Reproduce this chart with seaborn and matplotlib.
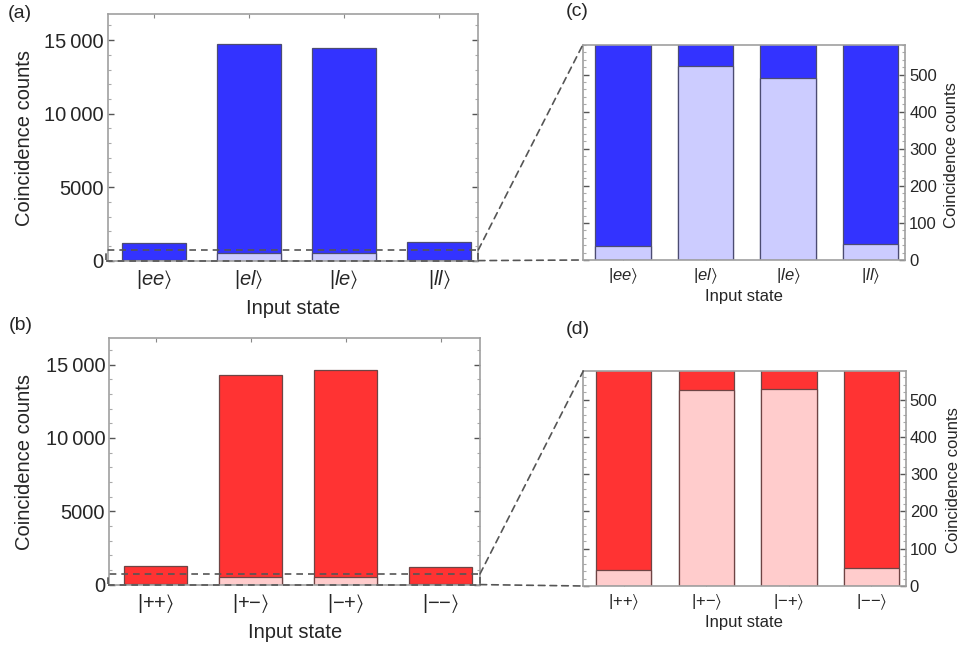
import numpy as np
import pandas as pd
import matplotlib
matplotlib.use("Agg")
import matplotlib.pyplot as plt
import seaborn as sns
from matplotlib.ticker import MultipleLocator, FuncFormatter
from matplotlib.patches import ConnectionPatch

# ---------------- data ----------------
states_time = [r'$|ee\rangle$', r'$|el\rangle$', r'$|le\rangle$', r'$|ll\rangle$']
states_phase = [r'|++$\rangle$', r'|+−$\rangle$', r'|−+$\rangle$', r'|−−$\rangle$']

total_time = [1200, 14730, 14480, 1270]
light_time = [37, 524, 492, 43]

total_phase = [1275, 14270, 14660, 1230]
light_phase = [44, 525, 530, 47]

full_ylim = 16800
zoom_ylim_time = 580
zoom_ylim_phase = 577
zoom_box_top = 730

# ---------------- style ----------------
sns.set_style("white")
plt.rcParams['font.family'] = ['Liberation Sans', 'DejaVu Sans']
plt.rcParams['mathtext.fontset'] = 'custom'
plt.rcParams['mathtext.rm'] = 'Liberation Sans'
plt.rcParams['mathtext.it'] = 'Liberation Sans:italic'
plt.rcParams['mathtext.bf'] = 'Liberation Sans:bold'
plt.rcParams['mathtext.fallback'] = 'stixsans'

W, H = 964, 647
fig = plt.figure(figsize=(W / 100, H / 100), dpi=100)


def rect(l, r, t, b):
    return [l / W, 1 - b / H, (r - l) / W, (b - t) / H]


ax_a = fig.add_axes(rect(107.7, 478.3, 13.7, 260.6))
ax_c = fig.add_axes(rect(582.7, 905.0, 45.0, 260.0))
ax_b = fig.add_axes(rect(109.3, 480.0, 338.3, 584.6))
ax_d = fig.add_axes(rect(583.3, 905.7, 371.0, 586.0))

BLUE_D, BLUE_L, BLUE_E = '#3333ff', '#ccccff', '#4c4c72'
RED_D, RED_L, RED_E = '#ff3333', '#ffcccc', '#6e4444'
FRAME = '#a0a0a0'

XL = (-0.487, 3.414)


def fmt_big(v, pos):
    v = int(round(v))
    if v >= 10000:
        return f"{v // 1000}\u2009{v % 1000:03d}"
    return str(v)


def draw(ax, states, total, light, dark, lite, edge, big, right):
    df_t = pd.DataFrame({'state': states, 'count': total})
    df_l = pd.DataFrame({'state': states, 'count': light})
    sns.barplot(data=df_t, x='state', y='count', color=dark, saturation=1,
                edgecolor=edge, linewidth=0.9, width=0.67, ax=ax)
    sns.barplot(data=df_l, x='state', y='count', color=lite, saturation=1,
                edgecolor=edge, linewidth=0.9, width=0.67, ax=ax)
    ax.set_xlim(*XL)
    for s in ax.spines.values():
        s.set_color(FRAME)
        s.set_linewidth(1.2)
    ax.tick_params(axis='both', which='both', direction='in', top=True,
                   right=True, left=True, bottom=True)
    ax.tick_params(axis='x', length=3, color='#888888')
    if big:
        ax.set_ylim(0, full_ylim)
        ax.yaxis.set_major_locator(MultipleLocator(5000))
        ax.yaxis.set_minor_locator(MultipleLocator(1000))
        ax.yaxis.set_major_formatter(FuncFormatter(fmt_big))
        fs = 14.5
    else:
        ax.yaxis.set_major_locator(MultipleLocator(100))
        ax.yaxis.set_minor_locator(MultipleLocator(20))
        fs = 12
    ax.tick_params(axis='y', which='major', length=4.5, color='#555555', width=1)
    ax.tick_params(axis='y', which='minor', length=2.5, color='#aaaaaa', width=0.8)
    ax.tick_params(axis='both', which='major', labelsize=fs, pad=3)
    ax.tick_params(axis='x', which='major', pad=5)
    if right:
        ax.tick_params(axis='y', labelleft=False, labelright=True)
        ax.yaxis.set_label_position('right')
    ax.set_xticks(range(len(states)))
    ax.set_xticklabels(states, fontsize=fs)
    ax.set_xlabel('Input state', fontsize=fs)
    ax.set_ylabel('Coincidence counts', fontsize=fs)


draw(ax_a, states_time, total_time, light_time, BLUE_D, BLUE_L, BLUE_E, True, False)
draw(ax_b, states_phase, total_phase, light_phase, RED_D, RED_L, RED_E, True, False)
draw(ax_c, states_time, total_time, light_time, BLUE_D, BLUE_L, BLUE_E, False, True)
draw(ax_d, states_phase, total_phase, light_phase, RED_D, RED_L, RED_E, False, True)
ax_c.set_ylim(0, zoom_ylim_time)
ax_d.set_ylim(0, zoom_ylim_phase)


def place(axis, px, py):
    axis.set_label_coords(px / W, 1 - py / H, transform=fig.transFigure)
    axis.label.set_verticalalignment('center')
    axis.label.set_horizontalalignment('center')


place(ax_a.xaxis, 293, 308)
place(ax_a.yaxis, 25, 138)
place(ax_b.xaxis, 295, 632)
place(ax_b.yaxis, 25, 462)
place(ax_c.xaxis, 744, 297)
place(ax_c.yaxis, 951, 155)
place(ax_d.xaxis, 744, 623)
place(ax_d.yaxis, 954, 480)

# panel letters
for txt, x, y in [('(a)', 8, 13), ('(c)', 566, 12), ('(b)', 9, 326), ('(d)', 566, 330)]:
    fig.text(x / W, 1 - y / H, txt, fontsize=14, ha='left', va='center')

# zoom boxes and connectors
for big_ax, small_ax in [(ax_a, ax_c), (ax_b, ax_d)]:
    x0, x1 = -0.50, XL[1]
    big_ax.plot([x0, x1, x1, x0, x0], [0, 0, zoom_box_top, zoom_box_top, 0],
                ls=(0, (4, 3)), color='#555555', lw=1.2, clip_on=False, zorder=5)
    for ya, yb in [(zoom_box_top, 1), (0, 0)]:
        con = ConnectionPatch(xyA=(x1, ya), coordsA=big_ax.transData,
                              xyB=(0, yb), coordsB=small_ax.transAxes,
                              ls=(0, (4, 3)), color='#555555', lw=1.2)
        fig.add_artist(con)

fig.savefig('out.png', dpi=100, facecolor='white')
